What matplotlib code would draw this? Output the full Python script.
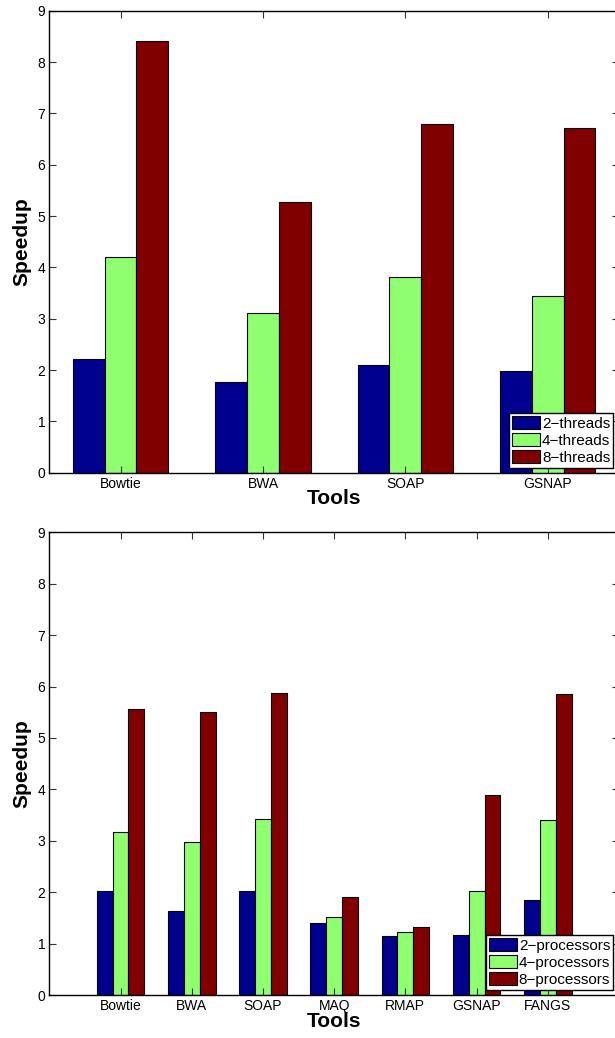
import numpy as np
import matplotlib
matplotlib.use("Agg")
import matplotlib.pyplot as plt

plt.rcParams['font.family'] = ['Liberation Sans', 'DejaVu Sans']

# top panel: multithreading speedup
tools_top = ["Bowtie", "BWA", "SOAP", "GSNAP"]
threads_2 = [2.21, 1.77, 2.10, 1.99]
threads_4 = [4.21, 3.12, 3.82, 3.44]
threads_8 = [8.40, 5.28, 6.79, 6.71]
labels_top = ["2\u2212threads", "4\u2212threads", "8\u2212threads"]

# bottom panel: multiprocessor speedup
tools_bot = ["Bowtie", "BWA", "SOAP", "MAQ", "RMAP", "GSNAP", "FANGS"]
procs_2 = [2.02, 1.63, 2.02, 1.41, 1.15, 1.17, 1.84]
procs_4 = [3.17, 2.97, 3.42, 1.52, 1.23, 2.02, 3.40]
procs_8 = [5.57, 5.50, 5.88, 1.91, 1.33, 3.90, 5.85]
labels_bot = ["2\u2212processors", "4\u2212processors", "8\u2212processors"]

colors = ["#00008F", "#8FFF6F", "#800000"]

fig = plt.figure(figsize=(6.15, 10.38), dpi=100)
ax1 = fig.add_axes([0.0802, 0.5446, 0.9263, 0.4451])
ax2 = fig.add_axes([0.0802, 0.0414, 0.9263, 0.4458])


def draw(ax, tools, series, labels, xlim):
    x = np.arange(1, len(tools) + 1)
    w = 0.223
    for i, (vals, lab) in enumerate(zip(series, labels)):
        ax.bar(x + (i - 1) * w, vals, w, color=colors[i], edgecolor="black",
               linewidth=0.8, label=lab)
    ax.set_xlim(*xlim)
    ax.set_ylim(0, 9)
    ax.set_yticks(range(0, 10))
    ax.set_xticks(x)
    ax.set_xticklabels(tools, fontsize=10)
    ax.tick_params(axis="y", labelsize=10)
    ax.tick_params(direction="in", length=5, width=0.8, top=True, right=True,
                   pad=3, colors="#333333", labelcolor="black")
    for s in ax.spines.values():
        s.set_linewidth(1.0)
    ax.set_xlabel("Tools", fontsize=15, fontweight="bold", labelpad=-1)
    ax.set_ylabel("Speedup", fontsize=15, fontweight="bold", labelpad=4)
    leg = ax.legend(loc="lower right", bbox_to_anchor=(0.990, 0.011),
                    fontsize=11, fancybox=False, framealpha=1,
                    edgecolor="black", handlelength=1.8, handleheight=0.9,
                    handletextpad=0.15, labelspacing=0.15, borderpad=0.2,
                    borderaxespad=0)
    leg.get_frame().set_linewidth(1.0)


draw(ax1, tools_top, [threads_2, threads_4, threads_8], labels_top, (0.5, 4.5))
draw(ax2, tools_bot, [procs_2, procs_4, procs_8], labels_bot, (0, 8))

fig.savefig("out.png", dpi=100)
